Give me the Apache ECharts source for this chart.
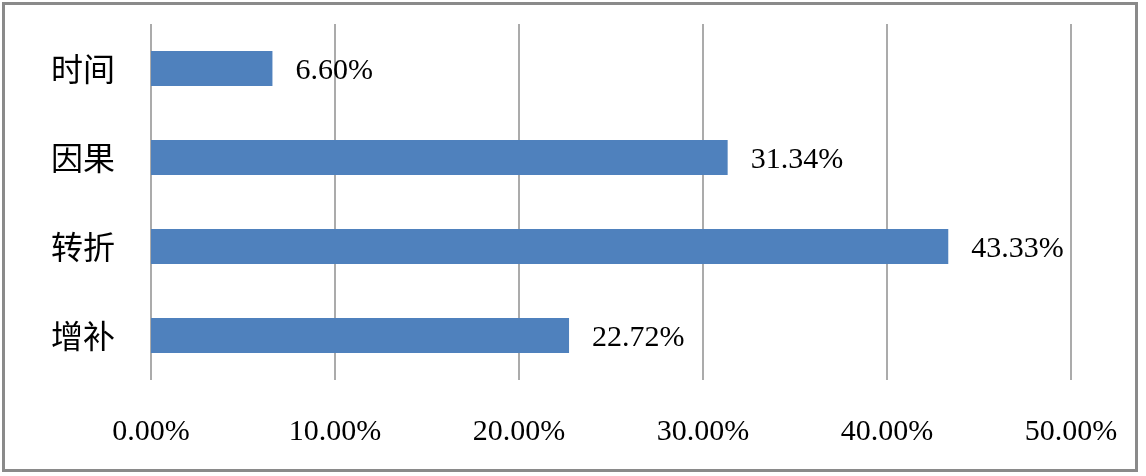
<!DOCTYPE html>
<html>
<head>
<meta charset="utf-8">
<title>关系类型比例</title>
<script src="https://cdn.jsdelivr.net/npm/echarts@6/dist/echarts.min.js"></script>
<style>
    html, body { margin: 0; padding: 0; background: #fff; }
    #charts { width: 1146px; height: 476px; }
</style>
</head>
<body>
<div id="charts"></div>
<script>
    var categories = ['时间', '因果', '转折', '增补'];
    var values = [6.60, 31.34, 43.33, 22.72];
    var tickMin = 0, tickMax = 50, tickStep = 10;

    var myChart = echarts.init(document.getElementById('charts'));
    var option = {
        animation: false,
        textStyle: { fontFamily: '"Liberation Serif", "Noto Sans CJK SC", serif' },
        graphic: [{
            type: 'rect',
            shape: { x: 3.5, y: 3.5, width: 1133, height: 467 },
            style: { fill: 'none', stroke: '#8a8a8a', lineWidth: 3 }
        }],
        grid: { left: 151, right: 75, top: 24, bottom: 96 },
        xAxis: {
            type: 'value',
            min: tickMin,
            max: tickMax,
            interval: tickStep,
            axisLine: { show: false },
            axisTick: { show: false },
            splitLine: { lineStyle: { color: '#ababab', width: 2 } },
            axisLabel: {
                margin: 37,
                color: '#000',
                fontSize: 30,
                fontFamily: '"Liberation Serif", serif',
                formatter: function (v) { return v.toFixed(2) + '%'; }
            }
        },
        yAxis: {
            type: 'category',
            inverse: true,
            data: categories,
            axisLine: { show: false },
            axisTick: { show: false },
            axisLabel: {
                margin: 36,
                color: '#000',
                fontSize: 32,
                fontFamily: '"Noto Sans CJK SC", serif'
            }
        },
        series: [{
            type: 'bar',
            data: values,
            barWidth: 35,
            itemStyle: { color: '#4f81bd' },
            label: {
                show: true,
                position: 'right',
                distance: 23,
                offset: [0, 3],
                color: '#000',
                fontSize: 30,
                fontFamily: '"Liberation Serif", serif',
                formatter: function (p) { return p.value.toFixed(2) + '%'; }
            }
        }]
    };
    myChart.setOption(option);
</script>
</body>
</html>
